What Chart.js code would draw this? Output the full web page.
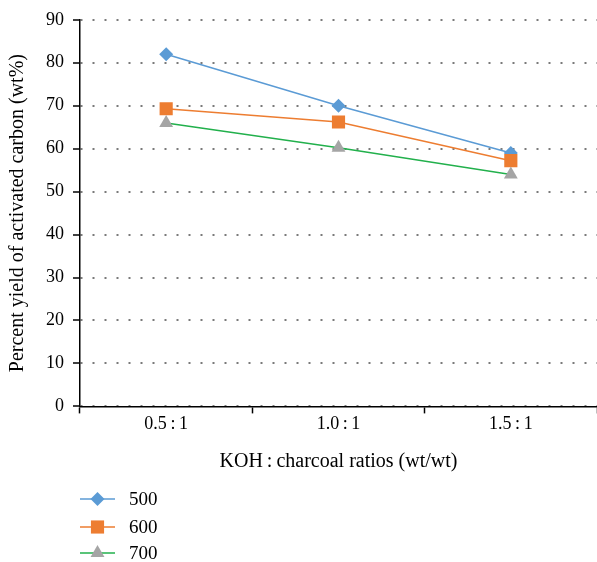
<!DOCTYPE html>
<html>
<head>
<meta charset="utf-8">
<script src="https://cdn.jsdelivr.net/npm/chart.js@4"></script>
<style>
  html, body { margin: 0; padding: 0; background: #fff; }
  #wrap { width: 597px; height: 562px; }
</style>
</head>
<body>
<div id="wrap"><canvas id="grafico" width="597" height="562"></canvas></div>
<script>
// dados
var ratios = ["0.5\u2009:\u20091", "1.0\u2009:\u20091", "1.5\u2009:\u20091"];
var temperaturas = ["500", "600", "700"];
var yield500 = [82, 70, 59];
var yield600 = [69.3, 66.2, 57.2];
var yield700 = [66, 60.2, 54];
var yTicks = [0, 10, 20, 30, 40, 50, 60, 70, 80, 90];

var serif = "'Liberation Serif', 'DejaVu Serif', serif";

// legenda vertical embaixo, desenhada na mao
var legendaVertical = {
  id: "legendaVertical",
  afterDraw: function (chart) {
    var ctx = chart.ctx;
    var rows = [499, 527, 553];
    chart.data.datasets.forEach(function (ds, i) {
      var y = rows[i];
      ctx.save();
      ctx.strokeStyle = ds.borderColor;
      ctx.lineWidth = 1.5;
      ctx.beginPath();
      ctx.moveTo(80, y);
      ctx.lineTo(115, y);
      ctx.stroke();
      ctx.fillStyle = ds.pointBackgroundColor;
      ctx.strokeStyle = ds.pointBackgroundColor;
      Chart.helpers.drawPoint(ctx, {
        pointStyle: ds.pointStyle,
        radius: ds.pointRadius,
        rotation: 0,
        borderWidth: 0
      }, 97.5, y);
      ctx.fillStyle = "#000";
      ctx.font = "19px " + serif;
      ctx.textBaseline = "middle";
      ctx.fillText(ds.label, 129, y + 1);
      ctx.restore();
    });
  }
};

new Chart(document.getElementById("grafico").getContext("2d"), {
  type: "line",
  data: {
    labels: ratios,
    datasets: [
      {
        label: temperaturas[0],
        data: yield500,
        borderColor: "#5B9BD5",
        pointBackgroundColor: "#5B9BD5",
        pointBorderColor: "#5B9BD5",
        pointStyle: "rectRot",
        pointRadius: 7,
        order: 3
      },
      {
        label: temperaturas[1],
        data: yield600,
        borderColor: "#ED7D31",
        pointBackgroundColor: "#ED7D31",
        pointBorderColor: "#ED7D31",
        pointStyle: "rect",
        pointRadius: 9.3,
        order: 2
      },
      {
        label: temperaturas[2],
        data: yield700,
        borderColor: "#22B04C",
        pointBackgroundColor: "#A5A5A5",
        pointBorderColor: "#A5A5A5",
        pointStyle: "triangle",
        pointRadius: 8,
        order: 1
      }
    ]
  },
  options: {
    responsive: false,
    animation: false,
    elements: {
      line: { borderWidth: 1.5, tension: 0 },
      point: { borderWidth: 0, hoverRadius: 8 }
    },
    layout: { autoPadding: false, padding: { left: 0, right: 0, top: 16, bottom: 84 } },
    plugins: {
      legend: { display: false },
      tooltip: { enabled: false }
    },
    scales: {
      x: {
        offset: true,
        grid: {
          offset: true,
          drawOnChartArea: false,
          tickLength: 7,
          tickColor: "#000",
          tickWidth: 1.5
        },
        border: { display: true, color: "#000", width: 1.5 },
        ticks: { color: "#000", padding: 0, font: { family: serif, size: 18 } },
        title: {
          display: true,
          text: "KOH\u2009:\u2009charcoal ratios (wt/wt)",
          color: "#000",
          padding: { top: 15, bottom: 4 },
          font: { family: serif, size: 20 }
        }
      },
      y: {
        min: 0,
        max: 90,
        afterFit: function (s) { s.width = 80; },
        afterBuildTicks: function (s) { s.ticks = yTicks.map(function (v) { return { value: v }; }); },
        grid: {
          color: "#7a7a7a",
          lineWidth: 2,
          tickLength: 7,
          tickColor: "#000",
          tickWidth: 1.5
        },
        border: { display: true, color: "#000", width: 1.5, dash: [2, 10] },
        ticks: { color: "#000", padding: 9, font: { family: serif, size: 18 } },
        title: {
          display: true,
          text: "Percent yield of activated carbon (wt%)",
          color: "#000",
          padding: { top: 6, bottom: 4 },
          font: { family: serif, size: 20 }
        }
      }
    }
  },
  plugins: [legendaVertical]
});
</script>
</body>
</html>
